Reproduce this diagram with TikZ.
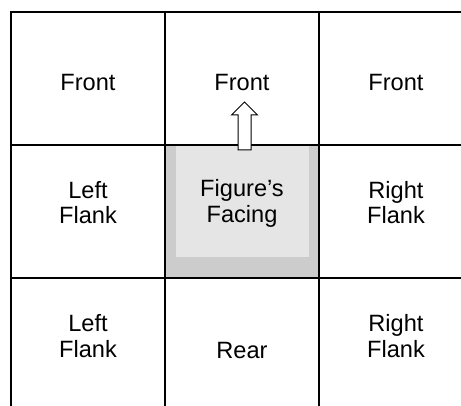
\documentclass[tikz,border=0pt]{standalone}
\usepackage{fontspec}
\setmainfont{Liberation Sans}
\usepackage{xcolor}
\usepackage{tikz}
\usetikzlibrary{positioning,backgrounds}
\definecolor{facingdark}{HTML}{CCCCCC}
\definecolor{facinglight}{HTML}{E5E5E5}
\tikzset{
    cell/.style={rectangle, draw, line width=1.8pt, minimum width=154pt, minimum height=133pt, outer sep=0pt},
    celltext/.style={align=center, font=\fontsize{23.6}{25.7}\selectfont},
    facing/.style={draw, fill=white, line width=1pt, line join=miter},
}
\begin{document}
\begin{tikzpicture}[x=1pt, y=1pt, node distance=0pt]
    \useasboundingbox (0,0) rectangle (461,405);
    \clip (0,0) rectangle (461,405);

    \node[cell] (c11) at (88,326.5) {};
    \node[cell, right=of c11] (c12) {};
    \node[cell, right=of c12] (c13) {};
    \node[cell, below=of c11] (c21) {};
    \node[cell, right=of c21] (c22) {};
    \node[cell, right=of c22] (c23) {};
    \node[cell, below=of c21] (c31) {};
    \node[cell, right=of c31] (c32) {};
    \node[cell, right=of c32] (c33) {};

    \begin{scope}[on background layer]
        \fill[facingdark] (c22.north west) rectangle (c22.south east);
        \fill[facinglight] ([xshift=11pt]c22.north west) rectangle ([xshift=-10pt, yshift=21pt]c22.south east);
    \end{scope}

    \node[celltext, yshift=-3.8pt] (t11) at (c11) {Front};
    \node[celltext, yshift=-3.8pt] (t12) at (c12) {Front};
    \node[celltext, yshift=-3.8pt] (t13) at (c13) {Front};
    \node[celltext, yshift=9pt] (t21) at (c21) {Left\\Flank};
    \node[celltext, yshift=8.3pt] (t22) at (c22) {Figure’s\\Facing};
    \node[celltext, yshift=9pt] (t23) at (c23) {Right\\Flank};
    \node[celltext, yshift=8.5pt] (t31) at (c31) {Left\\Flank};
    \node[celltext, yshift=-5.5pt] (t32) at (c32) {Rear};
    \node[celltext, yshift=8.5pt] (t33) at (c33) {Right\\Flank};

    % hollow arrow showing the facing
    \coordinate (arrowbase) at ([xshift=2.5pt, yshift=-5pt]c22.north);
    \draw[facing] (arrowbase) ++(-6.5,0) -- ++(0,35) -- ++(-6.5,0) -- ++(13,13)
        -- ++(13,-13) -- ++(-6.5,0) -- ++(0,-35) -- cycle;
\end{tikzpicture}
\end{document}
